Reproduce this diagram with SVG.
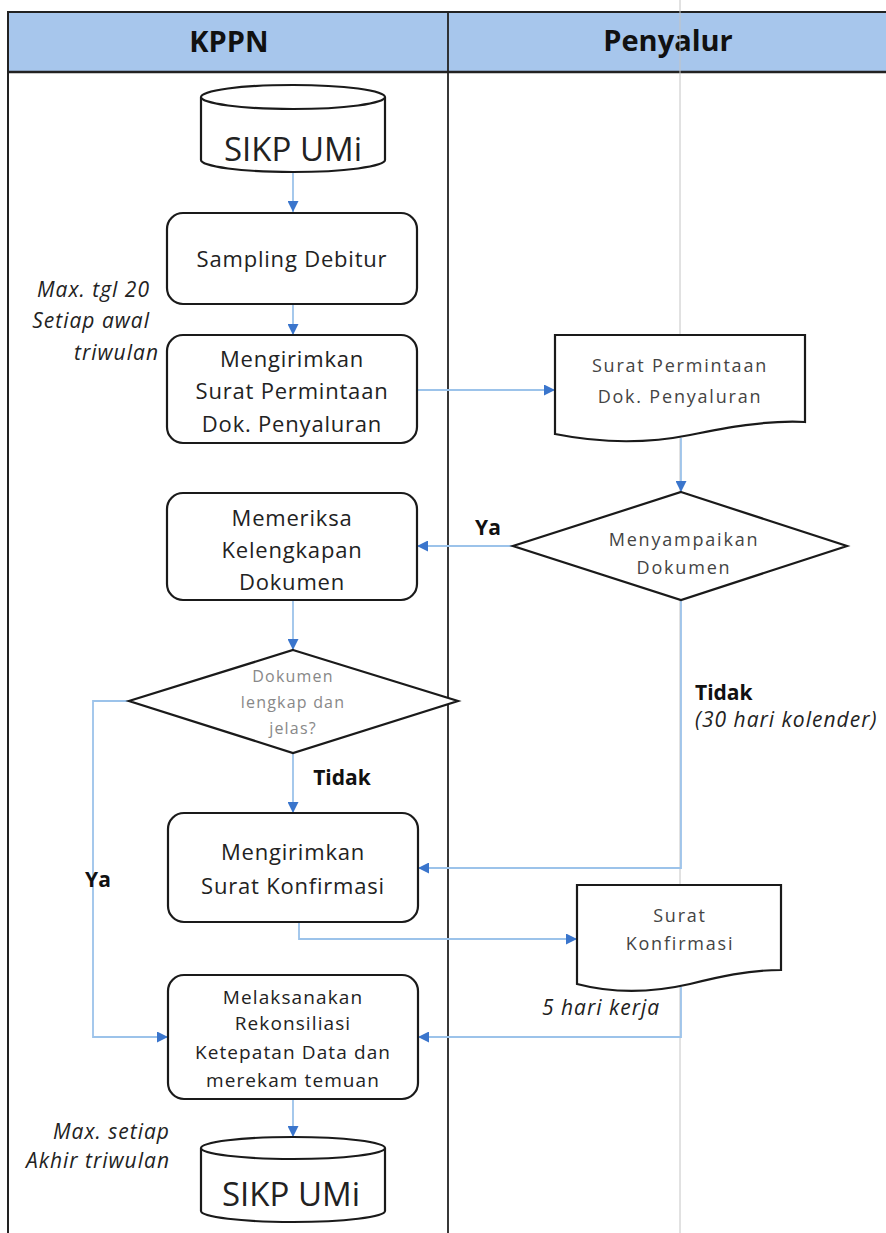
<svg xmlns="http://www.w3.org/2000/svg" width="886" height="1233" viewBox="0 0 886 1233">
<defs>
<style>
.t{font-family:"Open Sans","Noto Sans",sans-serif;fill:#222;text-anchor:middle}
.hd{font-weight:bold;font-size:29px;fill:#111}
.box{fill:#fff;stroke:#1a1a1a;stroke-width:2.2}
.big{font-size:22px;letter-spacing:0.8px}
.mid{font-size:19px;letter-spacing:1.1px}
.doc{font-size:18px;fill:#444;letter-spacing:1.8px}
.dim{font-size:16px;fill:#888;letter-spacing:1.2px}
.lab{font-weight:bold;font-size:21px;fill:#111}
.it{font-style:italic;font-size:21px;fill:#222;letter-spacing:1px}
.db{font-size:33px}
.con{fill:none;stroke:#9cc3ea;stroke-width:1.8}
</style>
<marker id="ah" viewBox="0 0 10 10" refX="10" refY="5" markerWidth="11" markerHeight="11" markerUnits="userSpaceOnUse" orient="auto">
<path d="M0,0 L10,5 L0,10 z" fill="#3a75cc"/>
</marker>
</defs>
<rect width="886" height="1233" fill="#fff"/>
<g id="lanes">
<rect x="7" y="12" width="890" height="60" fill="#a7c6ec"/>
<line x1="7" y1="12" x2="886" y2="12" stroke="#222" stroke-width="2"/>
<line x1="7" y1="72" x2="886" y2="72" stroke="#222" stroke-width="2.5"/>
<line x1="8" y1="12" x2="8" y2="1233" stroke="#222" stroke-width="2"/>
<line x1="448" y1="12" x2="448" y2="1233" stroke="#222" stroke-width="1.8"/>
<text class="t hd" x="229" y="52">KPPN</text>
<text class="t hd" x="668" y="51">Penyalur</text>
</g>
<line x1="680" y1="0" x2="680" y2="1233" stroke="#c4c4c4" stroke-width="1"/>
<g id="connectors">
<path class="con" d="M293,172 V212" marker-end="url(#ah)"/>
<path class="con" d="M293,304 V335" marker-end="url(#ah)"/>
<path class="con" d="M417,390 H555" marker-end="url(#ah)"/>
<path class="con" d="M681,438 V492" marker-end="url(#ah)"/>
<path class="con" d="M513,546 H417" marker-end="url(#ah)"/>
<path class="con" d="M293,600 V650" marker-end="url(#ah)"/>
<path class="con" d="M293,753 V813" marker-end="url(#ah)"/>
<path class="con" d="M129,701 H93 V1037 H168" marker-end="url(#ah)"/>
<path class="con" d="M681,600 V868 H418" marker-end="url(#ah)"/>
<path class="con" d="M299,922 V939 H577" marker-end="url(#ah)"/>
<path class="con" d="M681,987 V1037 H418" marker-end="url(#ah)"/>
<path class="con" d="M293,1099 V1137" marker-end="url(#ah)"/>
<text class="t lab" x="488" y="535">Ya</text>
<text class="t lab" x="342" y="785">Tidak</text>
<text class="t lab" x="98" y="887">Ya</text>
<text class="t lab" x="695" y="700" style="text-anchor:start">Tidak</text>
<text class="t it" x="695" y="727" style="text-anchor:start">(30 hari kolender)</text>
<text class="t it" x="542" y="1015" style="text-anchor:start">5 hari kerja</text>
</g>
<g id="db1">
<path class="box" d="M201,97 V160 A92,12 0 0 0 385,160 V97"/>
<ellipse class="box" cx="293" cy="97" rx="92" ry="12"/>
<text class="t db" x="293" y="161">SIKP UMi</text>
</g>
<g id="sampling">
<rect class="box" x="167" y="213" width="250" height="91" rx="16"/>
<text class="t big" x="292" y="267">Sampling Debitur</text>
</g>
<g id="kirim1">
<rect class="box" x="167" y="335" width="250" height="108" rx="16"/>
<text class="t big" x="292" y="367">Mengirimkan</text>
<text class="t big" x="292" y="399">Surat Permintaan</text>
<text class="t big" x="292" y="432">Dok. Penyaluran</text>
<text class="t it" x="150" y="297" style="text-anchor:end">Max. tgl 20</text>
<text class="t it" x="150" y="328" style="text-anchor:end">Setiap awal</text>
<text class="t it" x="159" y="360" style="text-anchor:end">triwulan</text>
</g>
<g id="doc1">
<path class="box" d="M555,335 H805 V422 C765,420 725,428 690,435 C650,443 605,444 555,434 Z"/>
<text class="t doc" x="680" y="372">Surat Permintaan</text>
<text class="t doc" x="680" y="403">Dok. Penyaluran</text>
</g>
<g id="menyampaikan">
<path class="box" d="M681,492 L847,546 L681,600 L513,546 Z"/>
<text class="t doc" x="684" y="546">Menyampaikan</text>
<text class="t doc" x="684" y="574">Dokumen</text>
</g>
<g id="memeriksa">
<rect class="box" x="167" y="493" width="250" height="107" rx="16"/>
<text class="t big" x="292" y="526">Memeriksa</text>
<text class="t big" x="292" y="558">Kelengkapan</text>
<text class="t big" x="292" y="590">Dokumen</text>
</g>
<g id="lengkap">
<path class="box" d="M293,650 L458,701 L293,753 L129,701 Z"/>
<text class="t dim" x="293" y="682">Dokumen</text>
<text class="t dim" x="293" y="708">lengkap dan</text>
<text class="t dim" x="293" y="734">jelas?</text>
</g>
<g id="kirim2">
<rect class="box" x="168" y="813" width="250" height="109" rx="16"/>
<text class="t big" x="293" y="860">Mengirimkan</text>
<text class="t big" x="293" y="894">Surat Konfirmasi</text>
</g>
<g id="doc2">
<path class="box" d="M577,885 H781 V970 C748,970 718,977 690,984 C655,992 615,994 577,984 Z"/>
<text class="t doc" x="680" y="922">Surat</text>
<text class="t doc" x="680" y="950">Konfirmasi</text>
</g>
<g id="rekon">
<rect class="box" x="168" y="975" width="250" height="124" rx="16"/>
<text class="t mid" x="293" y="1004">Melaksanakan</text>
<text class="t mid" x="293" y="1030">Rekonsiliasi</text>
<text class="t mid" x="293" y="1059">Ketepatan Data dan</text>
<text class="t mid" x="293" y="1087">merekam temuan</text>
</g>
<g id="db2">
<path class="box" d="M201,1148 V1211 A92,11 0 0 0 385,1211 V1148"/>
<ellipse class="box" cx="293" cy="1148" rx="92" ry="11"/>
<text class="t db" x="291" y="1206">SIKP UMi</text>
<text class="t it" x="170" y="1139" style="text-anchor:end">Max. setiap</text>
<text class="t it" x="170" y="1168" style="text-anchor:end">Akhir triwulan</text>
</g>
</svg>
